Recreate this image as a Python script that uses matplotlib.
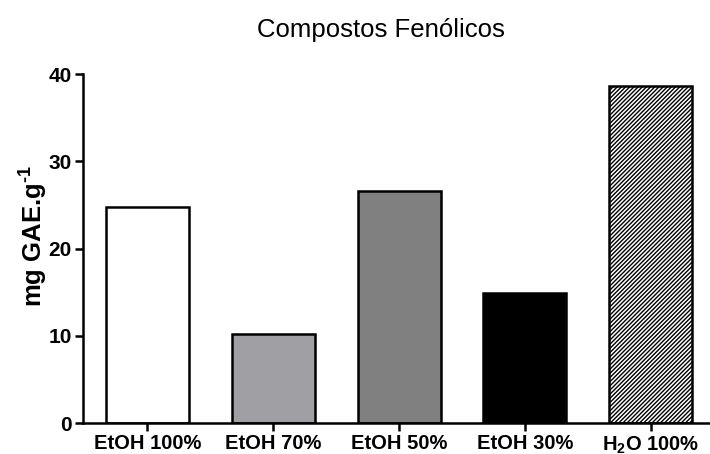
import matplotlib
matplotlib.use('Agg')
from matplotlib import pyplot as plt
import numpy as np

# dados
categorias = ['EtOH 100%', 'EtOH 70%', 'EtOH 50%', 'EtOH 30%', r'H$_\mathbf{2}$O 100%']
valores = [24.8, 10.2, 26.6, 14.9, 38.6]
cores = ['white', '#a09fa4', '#808080', 'black', 'white']
hachuras = [None, None, None, None, '////////']
yticks = [0, 10, 20, 30, 40]

plt.rcParams['font.family'] = ['Liberation Sans', 'DejaVu Sans']
plt.rcParams['mathtext.fontset'] = 'custom'
plt.rcParams['mathtext.rm'] = 'Liberation Sans:bold'
plt.rcParams['mathtext.bf'] = 'Liberation Sans:bold'
plt.rcParams['hatch.linewidth'] = 1.0

fig = plt.figure(figsize=(7.1, 4.54), dpi=100, facecolor='white')
ax = fig.add_axes([0.117, 0.068, 0.883, 0.769])

x = np.arange(len(categorias))
for i in range(len(categorias)):
    ax.bar(x[i], valores[i], width=0.66, color=cores[i], edgecolor='black',
           linewidth=1.8, hatch=hachuras[i], zorder=2)

ax.set_xlim(-0.51, 4.47)
ax.set_ylim(0, 40)
ax.set_yticks(yticks)
ax.set_xticks(x)
ax.set_xticklabels(categorias, fontsize=14.5, fontweight='bold')
ax.set_yticklabels([str(v) for v in yticks], fontsize=15, fontweight='bold')
ax.tick_params(axis='both', direction='out', length=6, width=1.8, pad=2)

for s in ['top', 'right']:
    ax.spines[s].set_visible(False)
for s in ['left', 'bottom']:
    ax.spines[s].set_linewidth(1.8)

ax.set_ylabel(r'mg GAE.g$^{\text{-}1}$', fontsize=18.5, fontweight='bold')
ax.yaxis.set_label_coords(-0.055, 0.536)
fig.text(0.537, 0.934, 'Compostos Fenólicos', ha='center', va='center', fontsize=18.5)

plt.savefig('out.png', dpi=100, facecolor='white')
